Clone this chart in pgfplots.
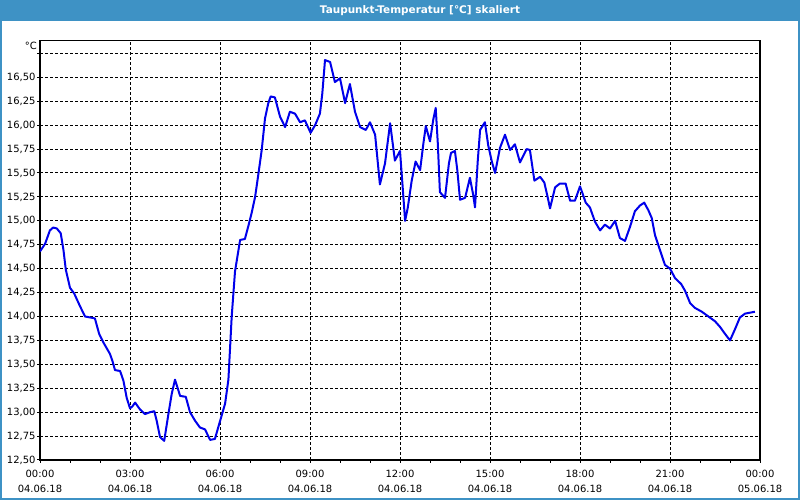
\documentclass[border=0pt]{standalone}
\usepackage{pgfplots}
\pgfplotsset{compat=1.18}
\usepackage{pgfplotstable}
\usepackage{fontspec}
\setmainfont{DejaVu Sans}
\definecolor{frameblue}{RGB}{62,146,197}
\definecolor{curveblue}{RGB}{0,0,235}
\pgfplotstableread{
h v
0.00 14.68
0.17 14.76
0.33 14.90
0.44 14.93
0.56 14.92
0.69 14.87
0.78 14.70
0.86 14.49
1.00 14.30
1.14 14.24
1.33 14.11
1.50 14.00
1.67 13.99
1.83 13.98
1.97 13.82
2.11 13.73
2.33 13.61
2.41 13.54
2.50 13.44
2.67 13.43
2.78 13.33
2.89 13.15
3.00 13.04
3.08 13.06
3.17 13.10
3.33 13.03
3.50 12.98
3.67 13.00
3.81 13.01
3.89 12.91
4.00 12.74
4.14 12.70
4.28 12.98
4.39 13.19
4.50 13.34
4.67 13.17
4.86 13.16
5.00 13.00
5.17 12.91
5.33 12.84
5.50 12.82
5.67 12.71
5.83 12.72
5.94 12.84
6.06 12.97
6.17 13.09
6.28 13.34
6.39 14.00
6.50 14.47
6.67 14.80
6.83 14.81
6.94 14.94
7.06 15.09
7.17 15.25
7.28 15.49
7.39 15.74
7.50 16.07
7.61 16.23
7.69 16.30
7.83 16.29
8.00 16.09
8.17 15.98
8.33 16.14
8.50 16.12
8.67 16.03
8.83 16.05
9.02 15.92
9.17 16.00
9.33 16.12
9.41 16.33
9.50 16.68
9.67 16.66
9.83 16.45
10.00 16.49
10.17 16.23
10.33 16.43
10.50 16.14
10.67 15.98
10.86 15.95
11.00 16.03
11.17 15.90
11.33 15.38
11.50 15.60
11.67 16.02
11.83 15.63
12.00 15.73
12.08 15.39
12.17 15.00
12.26 15.14
12.39 15.42
12.52 15.62
12.67 15.53
12.78 15.81
12.86 15.99
13.00 15.83
13.11 16.06
13.19 16.18
13.26 15.81
13.33 15.30
13.50 15.24
13.63 15.60
13.70 15.71
13.83 15.73
13.91 15.53
14.00 15.22
14.17 15.24
14.33 15.45
14.44 15.27
14.50 15.14
14.59 15.62
14.67 15.95
14.83 16.03
14.94 15.79
15.06 15.62
15.17 15.50
15.33 15.76
15.50 15.90
15.67 15.74
15.83 15.80
16.00 15.61
16.22 15.75
16.33 15.74
16.48 15.42
16.67 15.46
16.81 15.40
16.92 15.25
17.00 15.13
17.17 15.35
17.33 15.39
17.52 15.39
17.67 15.21
17.83 15.21
18.00 15.36
18.08 15.29
18.19 15.19
18.33 15.14
18.50 14.99
18.67 14.90
18.83 14.96
19.00 14.92
19.17 15.00
19.33 14.82
19.50 14.79
19.67 14.94
19.83 15.10
20.00 15.16
20.14 15.19
20.28 15.11
20.39 15.03
20.50 14.85
20.67 14.69
20.83 14.54
21.00 14.50
21.17 14.40
21.37 14.34
21.50 14.27
21.67 14.14
21.83 14.09
22.06 14.05
22.28 14.00
22.50 13.95
22.67 13.89
22.83 13.82
23.00 13.75
23.17 13.87
23.33 13.99
23.50 14.03
23.67 14.04
23.83 14.05
}\dewpoint
\begin{document}
\begin{tikzpicture}[x=1bp,y=1bp]
\useasboundingbox (0,0) rectangle (800,500);
\fill[white] (0,0) rectangle (800,500);
\fill[frameblue] (0,479.3) rectangle (800,500);
\draw[frameblue, line width=2bp] (1,1) rectangle (799,499);
\node[text=white, font=\bfseries\fontsize{10.5}{12}\selectfont] at (420,489.7) {Taupunkt-Temperatur [°C] skaliert};
\node[anchor=east, inner sep=0pt, font=\fontsize{10}{12}\selectfont] at (37,454) {°C};
\begin{axis}[
  at={(40bp,40bp)}, anchor=south west,
  scale only axis, width=720bp, height=419.7bp,
  xmin=0, xmax=24, ymin=12.5, ymax=16.887,
  xtick={0,3,6,9,12,15,18,21,24},
  minor xtick={1,2,4,5,7,8,10,11,13,14,16,17,19,20,22,23},
  xticklabels={{00:00\\04.06.18},{03:00\\04.06.18},{06:00\\04.06.18},{09:00\\04.06.18},{12:00\\04.06.18},{15:00\\04.06.18},{18:00\\04.06.18},{21:00\\04.06.18},{00:00\\05.06.18}},
  xticklabel style={align=center, font=\fontsize{10}{15}\selectfont, yshift=-4bp},
  ytick={12.5,12.75,13,13.25,13.5,13.75,14,14.25,14.5,14.75,15,15.25,15.5,15.75,16,16.25,16.5},
  extra y ticks={16.75}, extra y tick labels={},
  extra y tick style={grid=major},
  yticklabel style={font=\fontsize{10}{12}\selectfont, xshift=2bp, /pgf/number format/.cd, fixed, fixed zerofill, precision=2, use comma},
  /pgf/number format/assume math mode=true,
  grid=major,
  major grid style={black, line width=1bp, dash pattern=on 3bp off 2bp},
  axis line style={black, line width=1.2bp},
  tick align=outside, major tick length=3bp, minor tick length=3bp,
  tick style={black, line width=1bp},
  xtick pos=left, ytick pos=left,
]
\addplot[curveblue, line width=2bp, line join=round] table[x=h, y=v] {\dewpoint};
\end{axis}
\end{tikzpicture}
\end{document}
